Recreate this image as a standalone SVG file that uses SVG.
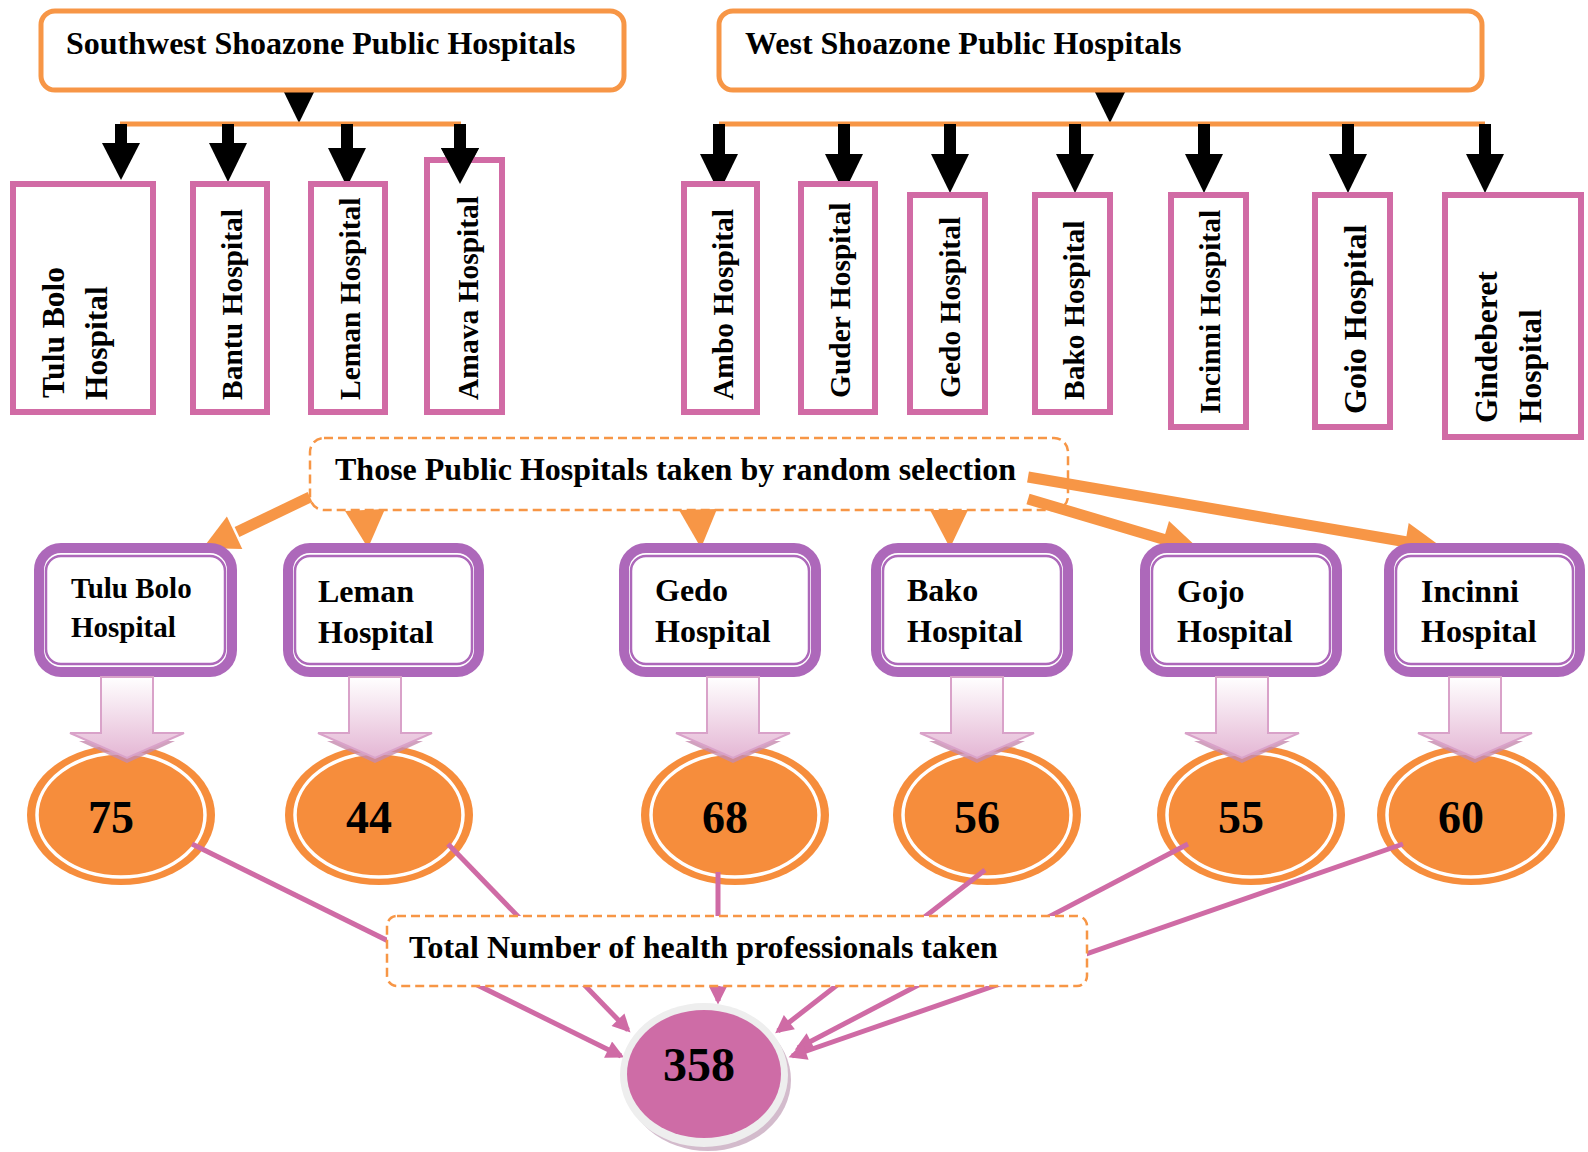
<svg xmlns="http://www.w3.org/2000/svg" width="1588" height="1152" viewBox="0 0 1588 1152">
<defs>
<style>
text{font-family:"Liberation Serif","Times New Roman",serif;font-weight:bold;fill:#000}
.title{font-size:32px}
.vt{font-size:29.5px}
.vt2{font-size:31.5px}
.mid{font-size:32px}
.num{font-size:46px;text-anchor:middle}
.topbox{fill:#fff;stroke:#F79646;stroke-width:5}
.hosp{fill:#fff;stroke:#D16BA5;stroke-width:6}
.dash{fill:#fff;stroke:#F79646;stroke-width:2.5;stroke-dasharray:9 5}
.outer{fill:#fff;stroke:#AD68BA;stroke-width:10}
.inner{fill:none;stroke:#AD68BA;stroke-width:2.5}
.ell{fill:#F68D3C}
.ring{fill:none;stroke:#fff;stroke-width:3.5}
.bar{stroke:#F79646;stroke-width:5}
.blk{fill:#000}
.oline{stroke:#F79646;stroke-width:11;fill:none}
.ohead{fill:#F79646}
.pline{stroke:#CF6BA5;stroke-width:5;fill:none;marker-end:url(#pk)}
.barrow{fill:url(#bg);stroke:#D9A2C9;stroke-width:2}
.bshadow{fill:#C58AAE;opacity:0.8}
</style>
<linearGradient id="bg" x1="0" y1="0" x2="0" y2="1">
<stop offset="0" stop-color="#FFFFFF"/>
<stop offset="1" stop-color="#E4B6D4"/>
</linearGradient>
<marker id="pk" viewBox="0 0 10 10" refX="8" refY="5" markerWidth="4" markerHeight="3.6" orient="auto">
<path d="M0,0 L10,5 L0,10 z" fill="#CF6BA5"/>
</marker>
</defs>

<g id="connectors">
<polygon class="blk" points="280,84 318,84 299,123"/>
<line class="bar" x1="120" y1="124" x2="461" y2="124"/>
<rect class="blk" x="115" y="124" width="12" height="22"/>
<polygon class="blk" points="102,143 140,143 121,180"/>
<rect class="blk" x="222" y="124" width="12" height="22"/>
<polygon class="blk" points="209,143 247,143 228,182"/>
<rect class="blk" x="341" y="124" width="12" height="26"/>
<polygon class="blk" points="328,148 366,148 347,187"/>
<rect class="blk" x="454" y="124" width="12" height="26"/>
<polygon class="blk" points="441,148 479,148 460,184"/>

<polygon class="blk" points="1091,84 1129,84 1110,123"/>
<line class="bar" x1="719" y1="124" x2="1485" y2="124"/>
<rect class="blk" x="713" y="124" width="12" height="32"/>
<polygon class="blk" points="700,154 738,154 719,193"/>
<rect class="blk" x="838" y="124" width="12" height="32"/>
<polygon class="blk" points="825,154 863,154 844,193"/>
<rect class="blk" x="944" y="124" width="12" height="32"/>
<polygon class="blk" points="931,154 969,154 950,193"/>
<rect class="blk" x="1069" y="124" width="12" height="32"/>
<polygon class="blk" points="1056,154 1094,154 1075,193"/>
<rect class="blk" x="1198" y="124" width="12" height="32"/>
<polygon class="blk" points="1185,154 1223,154 1204,193"/>
<rect class="blk" x="1342" y="124" width="12" height="32"/>
<polygon class="blk" points="1329,154 1367,154 1348,193"/>
<rect class="blk" x="1479" y="124" width="12" height="32"/>
<polygon class="blk" points="1466,154 1504,154 1485,193"/>
</g>

<g id="sw-title">
<rect class="topbox" x="41" y="11" width="583" height="79" rx="14"/>
<text class="title" x="66" y="54">Southwest Shoazone Public Hospitals</text>
</g>
<g id="w-title">
<rect class="topbox" x="719" y="11" width="763" height="79" rx="14"/>
<text class="title" x="745" y="54">West Shoazone Public Hospitals</text>
</g>

<g id="h-tulubolo">
<rect class="hosp" x="13" y="184" width="140" height="228"/>
<text class="vt2" transform="translate(64,398) rotate(-90)">Tulu Bolo</text>
<text class="vt2" transform="translate(107,400) rotate(-90)">Hospital</text>
</g>
<g id="h-bantu">
<rect class="hosp" x="193" y="184" width="74" height="228"/>
<text class="vt" transform="translate(242,400) rotate(-90)">Bantu Hospital</text>
</g>
<g id="h-leman">
<rect class="hosp" x="311" y="184" width="74" height="228"/>
<text class="vt" transform="translate(360,400) rotate(-90)">Leman Hospital</text>
</g>
<g id="h-amava">
<rect class="hosp" x="427" y="160" width="75" height="252"/>
<text class="vt" transform="translate(478,400) rotate(-90)">Amava Hospital</text>
</g>
<polygon class="blk" points="441,148 479,148 460,184"/>

<g id="h-ambo">
<rect class="hosp" x="684" y="184" width="73" height="228"/>
<text class="vt" transform="translate(733,400) rotate(-90)">Ambo Hospital</text>
</g>
<g id="h-guder">
<rect class="hosp" x="801" y="184" width="74" height="228"/>
<text class="vt" transform="translate(850,398) rotate(-90)">Guder Hospital</text>
</g>
<g id="h-gedo">
<rect class="hosp" x="910" y="195" width="75" height="217"/>
<text class="vt" transform="translate(960,398) rotate(-90)">Gedo Hospital</text>
</g>
<g id="h-bako">
<rect class="hosp" x="1035" y="195" width="75" height="217"/>
<text class="vt" transform="translate(1084,400) rotate(-90)">Bako Hospital</text>
</g>
<g id="h-incinni">
<rect class="hosp" x="1171" y="195" width="75" height="232"/>
<text class="vt" transform="translate(1220,414) rotate(-90)">Incinni Hospital</text>
</g>
<g id="h-gojo">
<rect class="hosp" x="1315" y="195" width="75" height="232"/>
<text class="title" transform="translate(1366,414) rotate(-90)">Goio Hospital</text>
</g>
<g id="h-gindeberet">
<rect class="hosp" x="1445" y="195" width="136" height="242"/>
<text class="vt2" transform="translate(1497,423) rotate(-90)">Gindeberet</text>
<text class="vt2" transform="translate(1541,423) rotate(-90)">Hospital</text>
</g>

<g id="random-selection">
<rect class="dash" x="310" y="438" width="758" height="72" rx="14"/>
<text class="mid" x="335" y="480">Those Public Hospitals taken by random selection</text>
</g>

<g id="orange-arrows">
<line class="oline" x1="310" y1="497" x2="237" y2="532"/>
<polygon class="ohead" points="203,548 242.3,549.1 226.9,516.6"/>
<polygon class="ohead" points="345,511 385,509 368,548"/>
<polygon class="ohead" points="679,510 717,509 701,548"/>
<polygon class="ohead" points="930,510 968,510 950,548"/>
<line class="oline" x1="1028" y1="499" x2="1166" y2="540"/>
<polygon class="ohead" points="1200,550 1158.2,557.4 1169,521"/>
<line class="oline" x1="1028" y1="477" x2="1407" y2="542"/>
<polygon class="ohead" points="1443,548 1402.3,560.3 1408.7,522.9"/>
</g>

<g id="s-tulubolo">
<rect class="outer" x="39" y="548" width="193" height="124" rx="22"/>
<rect class="inner" x="46" y="556" width="179" height="108" rx="15"/>
<text class="mid" style="font-size:29px" x="71" y="598">Tulu Bolo</text>
<text class="mid" style="font-size:29px" x="71" y="637">Hospital</text>
</g>
<g id="s-leman">
<rect class="outer" x="288" y="548" width="191" height="124" rx="22"/>
<rect class="inner" x="295" y="556" width="177" height="108" rx="15"/>
<text class="mid" x="318" y="602">Leman</text>
<text class="mid" x="318" y="643">Hospital</text>
</g>
<g id="s-gedo">
<rect class="outer" x="624" y="548" width="192" height="124" rx="22"/>
<rect class="inner" x="631" y="556" width="178" height="108" rx="15"/>
<text class="mid" x="655" y="601">Gedo</text>
<text class="mid" x="655" y="642">Hospital</text>
</g>
<g id="s-bako">
<rect class="outer" x="876" y="548" width="192" height="124" rx="22"/>
<rect class="inner" x="883" y="556" width="178" height="108" rx="15"/>
<text class="mid" x="907" y="601">Bako</text>
<text class="mid" x="907" y="642">Hospital</text>
</g>
<g id="s-gojo">
<rect class="outer" x="1145" y="548" width="192" height="124" rx="22"/>
<rect class="inner" x="1152" y="556" width="178" height="108" rx="15"/>
<text class="mid" x="1177" y="602">Gojo</text>
<text class="mid" x="1177" y="642">Hospital</text>
</g>
<g id="s-incinni">
<rect class="outer" x="1389" y="548" width="191" height="124" rx="22"/>
<rect class="inner" x="1396" y="556" width="177" height="108" rx="15"/>
<text class="mid" x="1421" y="602">Incinni</text>
<text class="mid" x="1421" y="642">Hospital</text>
</g>

<g id="n-75">
<ellipse class="ell" cx="121" cy="815" rx="94" ry="70"/>
<ellipse class="ring" cx="121" cy="815" rx="84" ry="62"/>
<text class="num" x="111" y="833">75</text>
</g>
<g id="n-44">
<ellipse class="ell" cx="379" cy="815" rx="94" ry="70"/>
<ellipse class="ring" cx="379" cy="815" rx="84" ry="62"/>
<text class="num" x="369" y="833">44</text>
</g>
<g id="n-68">
<ellipse class="ell" cx="735" cy="815" rx="94" ry="70"/>
<ellipse class="ring" cx="735" cy="815" rx="84" ry="62"/>
<text class="num" x="725" y="833">68</text>
</g>
<g id="n-56">
<ellipse class="ell" cx="987" cy="815" rx="94" ry="70"/>
<ellipse class="ring" cx="987" cy="815" rx="84" ry="62"/>
<text class="num" x="977" y="833">56</text>
</g>
<g id="n-55">
<ellipse class="ell" cx="1251" cy="815" rx="94" ry="70"/>
<ellipse class="ring" cx="1251" cy="815" rx="84" ry="62"/>
<text class="num" x="1241" y="833">55</text>
</g>
<g id="n-60">
<ellipse class="ell" cx="1471" cy="815" rx="94" ry="70"/>
<ellipse class="ring" cx="1471" cy="815" rx="84" ry="62"/>
<text class="num" x="1461" y="833">60</text>
</g>

<g id="block-arrows">
<g transform="translate(127,0)">
<polygon class="bshadow" points="-48,741 48,741 0,763"/>
<polygon class="barrow" points="-26,677 26,677 26,733 57,733 0,758 -57,733 -26,733"/>
</g>
<g transform="translate(375,0)">
<polygon class="bshadow" points="-48,741 48,741 0,763"/>
<polygon class="barrow" points="-26,677 26,677 26,733 57,733 0,758 -57,733 -26,733"/>
</g>
<g transform="translate(733,0)">
<polygon class="bshadow" points="-48,741 48,741 0,763"/>
<polygon class="barrow" points="-26,677 26,677 26,733 57,733 0,758 -57,733 -26,733"/>
</g>
<g transform="translate(977,0)">
<polygon class="bshadow" points="-48,741 48,741 0,763"/>
<polygon class="barrow" points="-26,677 26,677 26,733 57,733 0,758 -57,733 -26,733"/>
</g>
<g transform="translate(1242,0)">
<polygon class="bshadow" points="-48,741 48,741 0,763"/>
<polygon class="barrow" points="-26,677 26,677 26,733 57,733 0,758 -57,733 -26,733"/>
</g>
<g transform="translate(1475,0)">
<polygon class="bshadow" points="-48,741 48,741 0,763"/>
<polygon class="barrow" points="-26,677 26,677 26,733 57,733 0,758 -57,733 -26,733"/>
</g>
</g>

<g id="total-connectors">
<line class="pline" x1="192" y1="844" x2="621" y2="1056"/>
<line class="pline" x1="448" y1="844" x2="628" y2="1030"/>
<line class="pline" x1="718" y1="872" x2="718" y2="1001"/>
<line class="pline" x1="985" y1="870" x2="778" y2="1031"/>
<line class="pline" x1="1188" y1="844" x2="798" y2="1048"/>
<line class="pline" x1="1403" y1="844" x2="792" y2="1056"/>
</g>

<g id="total-label">
<rect class="dash" x="387" y="916" width="700" height="70" rx="10"/>
<text class="mid" x="409" y="958">Total Number of health professionals taken</text>
</g>

<g id="n-358">
<ellipse cx="708" cy="1080" rx="83" ry="71" fill="#B58DAA" opacity="0.6"/>
<ellipse cx="704" cy="1075" rx="84" ry="72" fill="#EEEEEE"/>
<ellipse cx="704" cy="1074" rx="77" ry="64" fill="#CE6CA6"/>
<text class="num" style="font-size:48px" x="699" y="1081">358</text>
</g>
</svg>
